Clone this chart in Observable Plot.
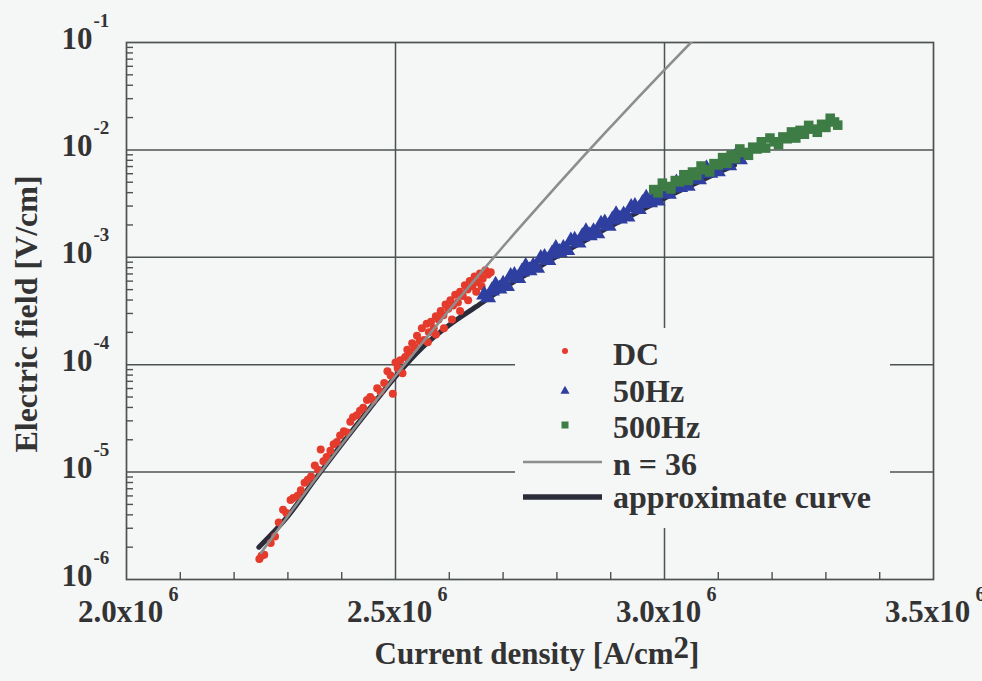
<!DOCTYPE html>
<html>
<head>
<meta charset="utf-8">
<script src="https://cdn.jsdelivr.net/npm/d3@7"></script>
<script src="https://cdn.jsdelivr.net/npm/@observablehq/plot@0.6"></script>
<style>
  body { margin: 0; background: #f5f6f6; }
  #wrap { position: relative; width: 982px; height: 681px; font-family: "Liberation Serif", "Times New Roman", serif; font-weight: bold; color: #333; }
  #wrap > svg { position: absolute; left: 0; top: 0; }
  #xtitle { position: absolute; left: 537px; top: 638px; transform: translateX(-50%); font-size: 31px; line-height: 31px; white-space: nowrap; }
  #xtitle .sup { position: relative; top: -6px; }
</style>
</head>
<body>
<div id="wrap"><div id="xtitle">Current density [A/cm<span class="sup">2</span>]</div></div>
<script>
// Current density in units of 10^6 A/cm², electric field in V/cm.

// Axis ticks
const xTicks = [2.0, 2.5, 3.0, 3.5];
const xTickLabels = ["2.0x10", "2.5x10", "3.0x10", "3.5x10"];
const xTickExp = "6";
const xMinorTicks = [2.1, 2.2, 2.3, 2.4, 2.6, 2.7, 2.8, 2.9, 3.1, 3.2, 3.3, 3.4];
const yTicks = [1e-6, 1e-5, 1e-4, 1e-3, 1e-2, 1e-1];
const yTickExps = ["-6", "-5", "-4", "-3", "-2", "-1"];
const yMinorMantissas = [2, 3, 4, 5, 6, 7, 8, 9];

// DC measurement
const dcJ = [2.247,2.251,2.256,2.268,2.276,2.283,2.291,2.297,2.305,2.310,
  2.318,2.324,2.331,2.337,2.343,2.350,2.356,2.361,2.366,2.372,
  2.379,2.385,2.391,2.397,2.404,2.410,2.416,2.421,2.428,2.434,
  2.440,2.447,2.453,2.459,2.466,2.472,2.479,2.485,2.491,2.495,
  2.500,2.504,2.509,2.513,2.518,2.522,2.527,2.531,2.536,2.540,
  2.545,2.549,2.553,2.558,2.562,2.566,2.571,2.575,2.580,2.584,
  2.589,2.593,2.598,2.602,2.607,2.611,2.616,2.620,2.625,2.629,
  2.634,2.638,2.643,2.647,2.652,2.657,2.662,2.667,2.672,2.677,
  2.560,2.575,2.590,2.605,2.620,2.635,2.650,2.660];
const dcE = [1.55e-6,1.66e-6,1.70e-6,2.19e-6,2.51e-6,3.39e-6,4.47e-6,4.17e-6,5.50e-6,5.75e-6,
  6.03e-6,6.76e-6,7.94e-6,8.51e-6,9.12e-6,1.15e-5,1.05e-5,1.62e-5,1.26e-5,1.38e-5,
  1.58e-5,1.82e-5,1.91e-5,2.19e-5,2.40e-5,2.34e-5,2.95e-5,3.24e-5,3.39e-5,3.72e-5,
  3.98e-5,4.68e-5,5.01e-5,4.68e-5,6.03e-5,5.62e-5,6.76e-5,8.71e-5,7.94e-5,5.37e-5,
  1.05e-4,9.33e-5,1.10e-4,8.32e-5,1.18e-4,1.38e-4,1.29e-4,1.58e-4,1.45e-4,1.86e-4,
  1.66e-4,2.19e-4,1.70e-4,2.40e-4,2.00e-4,2.51e-4,2.19e-4,2.82e-4,2.63e-4,3.16e-4,
  2.88e-4,3.63e-4,3.31e-4,3.98e-4,3.55e-4,4.47e-4,3.80e-4,4.79e-4,4.37e-4,5.50e-4,
  5.01e-4,6.03e-4,5.37e-4,6.61e-4,5.89e-4,7.08e-4,6.31e-4,7.59e-4,6.92e-4,7.24e-4,
  1.62e-4,1.91e-4,2.19e-4,2.63e-4,3.16e-4,3.98e-4,4.79e-4,5.37e-4];

// 50 Hz measurement
const hz50J = [2.665,2.672,2.679,2.686,2.693,2.700,2.707,2.714,2.721,2.728,
  2.735,2.742,2.749,2.756,2.763,2.770,2.777,2.784,2.791,2.798,
  2.805,2.812,2.819,2.826,2.833,2.840,2.847,2.854,2.861,2.868,
  2.875,2.882,2.889,2.896,2.903,2.910,2.917,2.924,2.931,2.938,
  2.945,2.952,2.959,2.966,2.973,2.980,2.987,2.994,3.001,3.008,
  3.015,3.022,3.029,3.036,3.043,3.050,3.057,3.064,3.071,3.078,
  3.085,3.092,3.099,3.106,3.113,3.120,3.127,3.134,3.140];
const hz50E = [4.47e-4,4.21e-4,4.88e-4,5.52e-4,5.08e-4,5.62e-4,5.38e-4,6.64e-4,6.81e-4,6.37e-4,
  7.33e-4,8.24e-4,7.53e-4,8.28e-4,7.93e-4,9.77e-4,1.00e-3,9.38e-4,1.08e-3,1.21e-3,
  1.11e-3,1.21e-3,1.16e-3,1.42e-3,1.45e-3,1.36e-3,1.56e-3,1.74e-3,1.59e-3,1.74e-3,
  1.66e-3,2.04e-3,2.09e-3,1.95e-3,2.23e-3,2.50e-3,2.28e-3,2.49e-3,2.38e-3,2.92e-3,
  2.99e-3,2.79e-3,3.18e-3,3.56e-3,3.24e-3,3.53e-3,3.36e-3,4.11e-3,4.19e-3,3.88e-3,
  4.43e-3,4.93e-3,4.47e-3,4.85e-3,4.60e-3,5.62e-3,5.71e-3,5.30e-3,6.03e-3,6.71e-3,
  6.08e-3,6.62e-3,6.28e-3,7.66e-3,7.74e-3,7.16e-3,8.15e-3,9.06e-3,8.13e-3];

// 500 Hz measurement
const hz500J = [2.980,2.988,2.996,3.004,3.012,3.020,3.028,3.036,3.044,3.052,
  3.060,3.068,3.076,3.084,3.092,3.100,3.108,3.116,3.124,3.132,
  3.140,3.148,3.156,3.164,3.172,3.180,3.188,3.196,3.204,3.212,
  3.220,3.228,3.236,3.244,3.252,3.260,3.268,3.276,3.284,3.292,
  3.300,3.308,3.316,3.322];
const hz500E = [4.27e-3,3.98e-3,4.90e-3,4.56e-3,4.33e-3,5.18e-3,5.04e-3,5.87e-3,5.21e-3,6.22e-3,
  5.78e-3,7.08e-3,6.56e-3,6.24e-3,7.45e-3,7.24e-3,8.47e-3,7.50e-3,8.97e-3,8.32e-3,
  1.02e-2,9.46e-3,8.91e-3,1.06e-2,1.02e-2,1.19e-2,1.04e-2,1.29e-2,1.19e-2,1.12e-2,
  1.32e-2,1.27e-2,1.47e-2,1.29e-2,1.52e-2,1.40e-2,1.69e-2,1.56e-2,1.46e-2,1.73e-2,
  1.62e-2,1.97e-2,1.82e-2,1.70e-2];

// n = 36 power law
const n36J = [2.25,2.30,2.35,2.40,2.45,2.50,2.55,2.60,2.65,2.70,2.75,2.80,2.85,2.90,2.95,3.00,3.05];
const n36E = [1.77e-6,3.91e-6,8.47e-6,1.81e-5,3.80e-5,7.87e-5,1.60e-4,3.23e-4,6.41e-4,1.26e-3,
  2.43e-3,4.65e-3,8.79e-3,1.64e-2,3.04e-2,5.57e-2,1.01e-1];

// approximate curve
const approxJ = [2.246,2.30,2.35,2.40,2.45,2.50,2.55,2.60,2.65,2.70,2.75,2.80,2.85,2.90,2.95,3.00,3.05,3.10,3.13];
const approxE = [2.00e-6,3.89e-6,8.51e-6,1.82e-5,3.80e-5,7.76e-5,1.45e-4,2.34e-4,3.47e-4,5.13e-4,
  7.24e-4,1.02e-3,1.41e-3,1.95e-3,2.63e-3,3.55e-3,4.68e-3,6.17e-3,7.20e-3];

const seriesNames = ["DC", "50Hz", "500Hz", "n = 36", "approximate curve"];
const yTitle = "Electric field [V/cm]";

const colors = { dc: "#e43b2c", hz50: "#2f3f9f", hz500: "#3e7c45", n36: "#8d8d8d", approx: "#2b2c3a" };
const ink = "#333";
const gridInk = "#4d5252";
const font = "Liberation Serif, Times New Roman, serif";

const rows = (J, E) => J.map((j, i) => ({ j, e: E[i] }));
const dc = rows(dcJ, dcE);
const hz50 = rows(hz50J, hz50E);
const hz500 = rows(hz500J, hz500E);
const n36 = rows(n36J, n36E);
const approx = rows(approxJ, approxE);
const yMinorTicks = yTicks.slice(0, -1).flatMap(t => yMinorMantissas.map(m => m * t));

const chart = Plot.plot({
  width: 982,
  height: 681,
  marginLeft: 126,
  marginRight: 49,
  marginTop: 42,
  marginBottom: 102,
  style: { background: "transparent", fontFamily: font, overflow: "visible" },
  x: { domain: [2.0, 3.5] },
  y: { type: "log", domain: [1e-6, 1e-1] },
  marks: [
    Plot.ruleX(xTicks.slice(1, -1), { stroke: gridInk, strokeWidth: 1.5 }),
    Plot.ruleY(yTicks.slice(1, -1), { stroke: gridInk, strokeWidth: 1.5 }),
    // minor ticks point into the plot
    Plot.axisY(yMinorTicks, { tickSize: 7, dx: 7, tickFormat: () => "", label: null, stroke: gridInk, strokeWidth: 1.4 }),
    Plot.axisX(xMinorTicks, { tickSize: 7, dy: -7, tickFormat: () => "", label: null, stroke: gridInk, strokeWidth: 1.4 }),
    Plot.frame({ stroke: gridInk, strokeWidth: 1.7 }),

    Plot.line(approx, { x: "j", y: "e", stroke: colors.approx, strokeWidth: 5, curve: "monotone-x" }),
    Plot.dot(dc, { x: "j", y: "e", r: 4, fill: colors.dc }),
    Plot.line(n36, { x: "j", y: "e", stroke: colors.n36, strokeWidth: 2.6, curve: "monotone-x", clip: true }),
    Plot.dot(hz50, { x: "j", y: "e", symbol: "triangle", r: 6, fill: colors.hz50 }),
    Plot.dot(hz500, { x: "j", y: "e", symbol: "square", r: 5.4, fill: colors.hz500 }),

    // x tick labels: mantissa and raised exponent
    Plot.text(xTicks, { x: d => d, frameAnchor: "bottom", text: (d, i) => xTickLabels[i], textAnchor: "middle",
      lineAnchor: "bottom", dx: -6, dy: 42, fontSize: 31, fontWeight: "bold", fill: ink }),
    Plot.text(xTicks, { x: d => d, frameAnchor: "bottom", text: () => xTickExp, textAnchor: "start",
      lineAnchor: "bottom", dx: 42, dy: 21, fontSize: 20, fontWeight: "bold", fill: ink }),
    // y tick labels
    Plot.text(yTicks, { y: d => d, frameAnchor: "left", text: () => "10", textAnchor: "end",
      lineAnchor: "bottom", dx: -34, dy: 6, fontSize: 31, fontWeight: "bold", fill: ink }),
    Plot.text(yTicks, { y: d => d, frameAnchor: "left", text: (d, i) => yTickExps[i], textAnchor: "start",
      lineAnchor: "bottom", dx: -33, dy: -16, fontSize: 19, fontWeight: "bold", fill: ink }),
    // y axis title
    Plot.text([yTitle], { frameAnchor: "left", text: d => d, rotate: -90, textAnchor: "middle", lineAnchor: "bottom",
      dx: -90, dy: 3, fontSize: 32, fontWeight: "bold", fill: ink })
  ]
});
document.getElementById("wrap").appendChild(chart);

// Legend panel inside the plot area
const legend = d3.select("#wrap").append("svg")
  .attr("width", 982).attr("height", 681)
  .style("pointer-events", "none");
legend.append("rect").attr("x", 515).attr("y", 328).attr("width", 375).attr("height", 200).attr("fill", "#f5f6f6");
const lx = 565, tx = 613;
legend.append("circle").attr("cx", lx).attr("cy", 351).attr("r", 3).attr("fill", colors.dc);
legend.append("path").attr("d", d3.symbol(d3.symbolTriangle2, 60)()).attr("transform", `translate(${lx},391)`).attr("fill", colors.hz50);
legend.append("rect").attr("x", lx - 3.5).attr("y", 421.5).attr("width", 7).attr("height", 7).attr("fill", colors.hz500);
legend.append("line").attr("x1", 523).attr("x2", 602).attr("y1", 462).attr("y2", 462).attr("stroke", colors.n36).attr("stroke-width", 2.6);
legend.append("line").attr("x1", 523).attr("x2", 602).attr("y1", 497).attr("y2", 497).attr("stroke", colors.approx).attr("stroke-width", 5.5);
const baselines = [365, 402, 438, 475, 508];
legend.selectAll("text.lab").data(seriesNames).join("text")
  .attr("x", tx).attr("y", (d, i) => baselines[i])
  .attr("font-family", font).attr("font-weight", "bold").attr("font-size", 32)
  .attr("fill", ink).text(d => d);
</script>
</body>
</html>
